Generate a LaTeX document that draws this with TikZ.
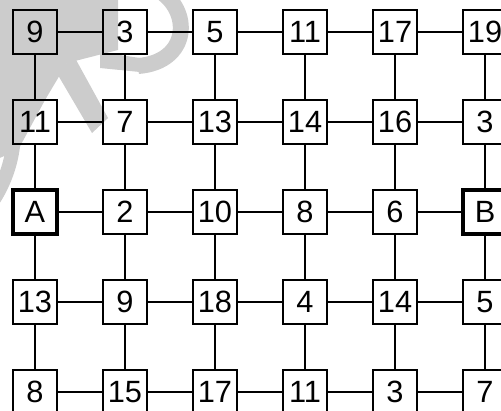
\documentclass[tikz,border=0pt]{standalone}
\usepackage{fontspec}
\setmainfont{Liberation Sans}
\usetikzlibrary{positioning}

\begin{document}
\begin{tikzpicture}[
    node distance=1.8cm, on grid,
    sq/.style={draw, line width=0.7pt, minimum size=0.88cm, inner sep=0pt, font=\fontsize{17.5}{17.5}\selectfont},
    trm/.style={sq, line width=1.8pt},
    lnk/.style={line width=0.7pt},
    wmk/.style={black!20}
]
\useasboundingbox (0,0) rectangle (10.02,8.2);
\clip (0,0) rectangle (10.02,8.2);

% faint watermark in the top left corner (pixel units)
\begin{scope}[shift={(0,8.2)}, x=0.02cm, y=-0.02cm]
  \fill[wmk] (-5,-5) -- (118,-5) -- (118,50) -- (67,63) -- (45,100) -- (18,150) -- (-5,160) -- cycle;
  \fill[wmk] (55,70) -- (75,58) -- (108,118) -- (92,133) -- cycle;
  \fill[wmk] (100,52) -- (140,58) -- (140,72) -- (100,68) -- cycle;
  \draw[wmk, line width=0.32cm] (158,-10) .. controls (192,10) and (190,62) .. (138,66);
  \draw[wmk, line width=0.28cm] (-10,60) .. controls (22,100) and (22,160) .. (-10,205);
\end{scope}

% row 1
\node[sq] (n-1-1) at (0.7,7.56) {9};
\node[sq, right=of n-1-1] (n-1-2) {3};
\node[sq, right=of n-1-2] (n-1-3) {5};
\node[sq, right=of n-1-3] (n-1-4) {11};
\node[sq, right=of n-1-4] (n-1-5) {17};
\node[sq, right=of n-1-5] (n-1-6) {19};

% row 2
\node[sq, below=of n-1-1] (n-2-1) {11};
\node[sq, right=of n-2-1] (n-2-2) {7};
\node[sq, right=of n-2-2] (n-2-3) {13};
\node[sq, right=of n-2-3] (n-2-4) {14};
\node[sq, right=of n-2-4] (n-2-5) {16};
\node[sq, right=of n-2-5] (n-2-6) {3};

% row 3
\node[trm, below=of n-2-1] (n-3-1) {A};
\node[sq, right=of n-3-1] (n-3-2) {2};
\node[sq, right=of n-3-2] (n-3-3) {10};
\node[sq, right=of n-3-3] (n-3-4) {8};
\node[sq, right=of n-3-4] (n-3-5) {6};
\node[trm, right=of n-3-5] (n-3-6) {B};

% row 4
\node[sq, below=of n-3-1] (n-4-1) {13};
\node[sq, right=of n-4-1] (n-4-2) {9};
\node[sq, right=of n-4-2] (n-4-3) {18};
\node[sq, right=of n-4-3] (n-4-4) {4};
\node[sq, right=of n-4-4] (n-4-5) {14};
\node[sq, right=of n-4-5] (n-4-6) {5};

% row 5
\node[sq, below=of n-4-1] (n-5-1) {8};
\node[sq, right=of n-5-1] (n-5-2) {15};
\node[sq, right=of n-5-2] (n-5-3) {17};
\node[sq, right=of n-5-3] (n-5-4) {11};
\node[sq, right=of n-5-4] (n-5-5) {3};
\node[sq, right=of n-5-5] (n-5-6) {7};

% links
\foreach \r in {1,...,5}
  \foreach \c [count=\d from 2] in {1,...,5}
    \draw[lnk] (n-\r-\c) -- (n-\r-\d);
\foreach \c in {1,...,6}
  \foreach \r [count=\s from 2] in {1,...,4}
    \draw[lnk] (n-\r-\c) -- (n-\s-\c);
\end{tikzpicture}
\end{document}
